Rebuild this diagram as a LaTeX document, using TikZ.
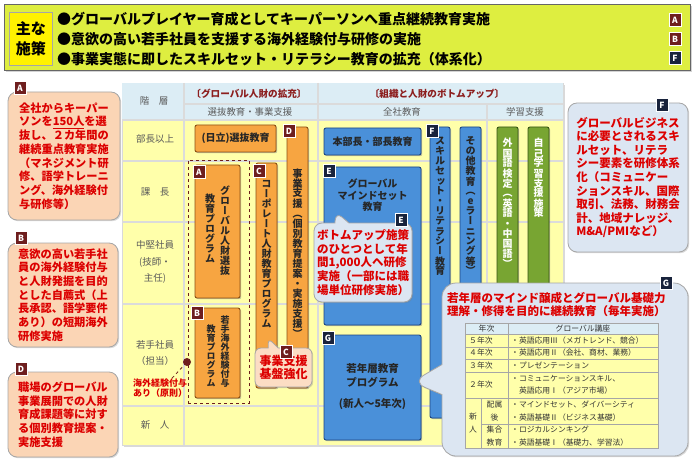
\documentclass[tikz,border=0pt]{standalone}
\usepackage{fontspec}
\setmainfont{Noto Sans CJK JP}
\newfontfamily\vjp[RawFeature=+vert]{Noto Sans CJK JP}
\usepackage{tikz}
\usetikzlibrary{positioning,shapes.callouts,shadows}
\usepackage{xcolor}
\definecolor{bannergreen}{RGB}{222,238,64}
\definecolor{hdrblue}{RGB}{220,237,245}
\definecolor{rowyellow}{RGB}{255,255,170}
\definecolor{orangefill}{RGB}{247,165,65}
\definecolor{orangeline}{RGB}{140,80,20}
\definecolor{bluefill}{RGB}{74,144,217}
\definecolor{blueline}{RGB}{30,70,130}
\definecolor{greenfill}{RGB}{120,165,50}
\definecolor{greenline}{RGB}{55,85,20}
\definecolor{badgered}{RGB}{110,30,30}
\definecolor{badgenavy}{RGB}{25,35,60}
\definecolor{notered}{RGB}{220,0,0}
\definecolor{peach}{RGB}{251,213,181}
\definecolor{paleblue}{RGB}{220,230,242}
\definecolor{labelgray}{RGB}{90,90,90}
\definecolor{titlered}{RGB}{140,30,30}

% vertical (tategaki) text: one character per line
\makeatletter
\newcommand\tate[1]{\vtop{\vjp\offinterlineskip\@tfor\tate@c:=#1\do{\hbox to 1em{\hss\tate@c\hss\vrule height .88em depth .12em width 0pt}}}}
\makeatother

\begin{document}
\begin{tikzpicture}[x=1pt, y=-1pt,
    % Node styles
    banner/.style={draw=black!60, fill=bannergreen, line width=1pt, minimum width=686pt, minimum height=66pt, inner sep=0pt, drop shadow={shadow xshift=1.5pt, shadow yshift=-1.5pt, opacity=.35}},
    keybox/.style={draw=black!35, fill=yellow, line width=.6pt, minimum width=43pt, minimum height=53pt, inner sep=0pt, align=center, font=\fontsize{15}{20}\selectfont\bfseries},
    headline/.style={anchor=west, inner sep=0pt, font=\fontsize{14}{14}\selectfont\bfseries},
    badge/.style={fill=#1, draw=white, line width=.6pt, text=white, minimum width=12pt, minimum height=13pt, inner sep=0pt, font=\fontsize{8.5}{8.5}\selectfont\bfseries},
    note/.style={draw=black!35, fill=peach, line width=.8pt, rounded corners=9pt, inner sep=0pt, align=left, text=notered, font=\fontsize{11.2}{13.7}\selectfont\bfseries, drop shadow={shadow xshift=1.2pt, shadow yshift=-1.2pt, opacity=.3}},
    bubble/.style={note, fill=paleblue},
    tableframe/.style={fill=rowyellow, draw=black!15, line width=.8pt, inner sep=0pt, drop shadow={shadow xshift=2pt, shadow yshift=-2pt, opacity=.3}},
    gridline/.style={draw=black!14, line width=1.2pt},
    rowlabel/.style={inner sep=0pt, align=center, text=labelgray, font=\fontsize{9.5}{16.5}\selectfont},
    colhead/.style={inner sep=0pt, text=titlered, font=\fontsize{9.6}{9.6}\selectfont\bfseries},
    subhead/.style={inner sep=0pt, text=labelgray, font=\fontsize{9.4}{9.4}\selectfont},
    orangebox/.style={draw=orangeline, fill=orangefill, line width=.9pt, rounded corners=2pt, inner sep=0pt, drop shadow={shadow xshift=1.2pt, shadow yshift=-1.2pt, opacity=.5}},
    bluebox/.style={orangebox, draw=blueline, fill=bluefill},
    greenbox/.style={orangebox, draw=greenline, fill=greenfill},
    boxtext/.style={inner sep=0pt, align=center, text=black!85, font=\fontsize{10}{11.5}\selectfont\bfseries},
    cell/.style={inner sep=0pt, align=left, text=black!80, font=\fontsize{7.8}{12.5}\selectfont},
    cellline/.style={draw=black!35, line width=.6pt}
  ]
  \useasboundingbox (0,0) rectangle (695,465);

  % Banner with the main measures
  \node[banner] (banner) at (347,38) {};
  \node[keybox] (keys) at (31,39) {主な\\施策};
  \node[headline] (m1) at (57,19) {●グローバルプレイヤー育成としてキーパーソンへ重点継続教育実施};
  \node[headline] (m2) at (57,39) {●意欲の高い若手社員を支援する海外経験付与研修の実施};
  \node[headline] (m3) at (57,59) {●事業実態に即したスキルセット・リテラシー教育の拡充（体系化）};
  \node[badge=badgered] (m1b) at (675,20) {A};
  \node[badge=badgered] (m2b) at (675,39) {B};
  \node[badge=badgenavy] (m3b) at (675,58) {F};

  % Left notes
  \node[note, minimum width=112pt, minimum height=128pt] (noteA) at (64,156) {全社からキーパー\\ソンを\underline{150人}を選\\抜し、２カ年間の\\継続重点教育実施\\（マネジメント研\\修、語学トレーニ\\ング、海外経験付\\与研修等）};
  \node[badge=badgered] (noteAb) at (20,88) {A};
  \node[note, minimum width=110pt, minimum height=104pt] (noteB) at (63,295) {意欲の高い若手社\\員の海外経験付与\\と人財発掘を目的\\とした自薦式（上\\長承認、語学要件\\あり）の短期海外\\研修実施};
  \node[badge=badgered] (noteBb) at (21,238) {B};
  \node[note, minimum width=110pt, minimum height=85pt] (noteD) at (63,414.5) {職場のグローバル\\事業展開での人財\\育成課題等に対す\\る個別教育提案・\\実施支援};
  \node[badge=badgered] (noteDb) at (21,369) {D};

  % Level table
  \node[tableframe, minimum width=441pt, minimum height=362pt] (tbl) at (342.5,264) {};
  \fill[hdrblue] (122.4,83.4) rectangle (562.6,120);
  \draw[gridline] (184,104) -- (563,104);
  \foreach \yy in {120,161,222,304,406}
    \draw[gridline] (122,\yy) -- (563,\yy);
  \draw[gridline] (184,83) -- (184,445);
  \draw[gridline] (318,83) -- (318,445);
  \draw[gridline] (487,104) -- (487,445);

  \node[rowlabel] (lvl) at (154,101) {階　層};
  \node[colhead] (global) at (249,94) {〔グローバル人財の拡充〕};
  \node[colhead] (bottomup) at (437,94) {〔組織と人財のボトムアップ〕};
  \node[subhead] (select) at (250,111.5) {選抜教育・事業支援};
  \node[subhead] (allco) at (402,111.5) {全社教育};
  \node[subhead] (study) at (525,111.5) {学習支援};
  \node[rowlabel] (r1) at (155,139) {部長以上};
  \node[rowlabel] (r2) at (155,192) {課　長};
  \node[rowlabel] (r3) at (155,262) {中堅社員\\(技師・\\主任)};
  \node[rowlabel] (r4) at (155,353) {若手社員\\（担当）};
  \node[rowlabel] (r5) at (155,425) {新　人};

  % Selection education and business support
  \node[draw=badgered, dashed, line width=.9pt, minimum width=61pt, minimum height=243pt, inner sep=0pt] (groupA) at (218.5,281.5) {};
  \node[orangebox, boxtext, minimum width=81pt, minimum height=27pt] (senbatsu) at (235.5,138.5) {(日立)選抜教育};
  \node[orangebox, minimum width=21pt, minimum height=261pt] (barD) at (297.5,257.5) {};
  \node[boxtext, anchor=north] (barDt) at (297.5,168) {\tate{事業支援（個別教育提案・実施支援）}};
  \node[badge=badgered] (barDb) at (289,131) {D};
  \node[orangebox, minimum width=45pt, minimum height=133pt] (progA) at (217.5,231.5) {};
  \node[boxtext] (progAr) at (225,231) {\tate{グローバル人財選抜}};
  \node[boxtext] (progAl) at (210,229) {\tate{教育プログラム}};
  \node[badge=badgered] (progAb) at (199,172) {A};
  \node[orangebox, minimum width=45pt, minimum height=90pt] (progB) at (217.5,353) {};
  \node[boxtext, font=\fontsize{9}{9}\selectfont\bfseries] (progBr) at (225,352) {\tate{若手海外経験付与}};
  \node[boxtext, font=\fontsize{9}{9}\selectfont\bfseries] (progBl) at (211,356) {\tate{教育プログラム}};
  \node[badge=badgered] (progBb) at (197,313) {B};
  \node[orangebox, minimum width=21pt, minimum height=225pt] (barC) at (266.5,275.5) {};
  \node[boxtext, anchor=north] (barCt) at (266.5,178) {\tate{コーポレート人財教育プログラム}};
  \node[badge=badgered] (barCb) at (259,171) {C};

  \node[circle, fill=badgered, inner sep=0pt, minimum size=8pt] (dot) at (187,362) {};
  \node[inner sep=0pt, align=left, text=notered, font=\fontsize{9}{10.5}\selectfont\bfseries] (abroad) at (160,388) {海外経験付与\\あり（原則）};
  \draw[dashed, badgered, line width=.8pt] ([xshift=12pt]abroad.north) -- (dot);

  \node[note, rectangle callout, callout absolute pointer={(268,338)}, callout pointer width=10pt, rounded corners=6pt, fill=peach!80, align=center, font=\fontsize{12}{13.5}\selectfont\bfseries, minimum width=57pt, minimum height=39pt] (noteC) at (283.5,367.5) {事業支援\\基盤強化};
  \node[badge=badgered] (noteCb) at (286,352) {C};

  % Company-wide education
  \node[bluebox, boxtext, minimum width=97pt, minimum height=27pt] (honbu) at (372.5,141.5) {本部長・部長教育};
  \node[bluebox, minimum width=20pt, minimum height=291pt] (barF) at (440,272.5) {};
  \node[boxtext, anchor=north] (barFt) at (440,136) {\tate{スキルセット・リテラシー教育}};
  \node[badge=badgenavy] (barFb) at (432,131) {F};
  \node[bluebox, minimum width=21pt, minimum height=300pt] (barE) at (470.5,277) {};
  \node[boxtext, anchor=north] (barEt) at (470.5,136) {\tate{その他教育（eラーニング等）}};
  \node[greenbox, minimum width=21pt, minimum height=300pt] (barLang) at (507.5,277) {};
  \node[boxtext, anchor=north, text=white] (barLangt) at (507.5,138) {\tate{外国語検定（英語・中国語）}};
  \node[greenbox, minimum width=21pt, minimum height=300pt] (barSelf) at (538.5,277) {};
  \node[boxtext, anchor=north, text=white] (barSelft) at (538.5,138) {\tate{自己学習支援施策}};

  \node[bluebox, minimum width=97pt, minimum height=158pt] (mind) at (372.5,246) {};
  \node[boxtext, anchor=north] (mindt) at (372.5,179) {グローバル\\マインドセット\\教育};
  \node[badge=badgenavy] (mindb) at (329,171) {E};
  \node[bubble, rectangle callout, callout absolute pointer={(336,212)}, callout pointer width=14pt, rounded corners=8pt, font=\fontsize{11.5}{13.8}\selectfont\bfseries, minimum width=98pt, minimum height=79pt] (noteE) at (363,262.5) {ボトムアップ施策\\のひとつとして年\\間1,000人へ研修\\実施（一部には職\\場単位研修実施）};
  \node[badge=badgenavy] (noteEb) at (401,220) {E};

  \node[bluebox, minimum width=97pt, minimum height=105pt] (young) at (372.5,387.5) {};
  \node[boxtext, font=\fontsize{10.5}{13.5}\selectfont\bfseries] (youngt) at (372.5,387) {若年層教育\\プログラム\\[8pt](新人～5年次)};
  \node[badge=badgenavy] (youngb) at (328,338) {G};

  % Note F
  \node[bubble, minimum width=120pt, minimum height=149pt, font=\fontsize{11.5}{13.6}\selectfont\bfseries] (noteF) at (628,177.5) {グローバルビジネス\\に必要とされるスキ\\ルセット、リテラ\\シー要素を研修体系\\化（コミュニケー\\ションスキル、国際\\取引、法務、財務会\\計、地域ナレッジ、\\M\&A/PMIなど）};
  \node[badge=badgenavy] (noteFb) at (662,105) {F};

  % Note G with the course table
  \node[bubble, rectangle callout, callout absolute pointer={(412,382)}, callout pointer width=30pt, rounded corners=14pt, minimum width=246pt, minimum height=173pt] (noteG) at (565,369.5) {};
  \node[badge=badgenavy] (noteGb) at (666,283) {G};
  \node[inner sep=0pt, anchor=north west, align=left, text=notered, font=\fontsize{11.5}{13.5}\selectfont\bfseries] (gtitle) at (447,292) {若年層のマインド醸成とグローバル基礎力\\理解・修得を目的に継続教育（毎年実施）};

  \fill[hdrblue] (465,323) rectangle (658,334);
  \fill[rowyellow] (465,334) rectangle (658,448);
  \draw[cellline] (465,323) rectangle (658,448);
  \foreach \yy in {334,347,359,372,398}
    \draw[cellline] (465,\yy) -- (658,\yy);
  \draw[cellline] (481,424) -- (658,424);
  \draw[cellline] (481,398) -- (481,448);
  \draw[cellline] (508,323) -- (508,448);

  \node[cell] (gh1) at (486.5,328.5) {年次};
  \node[cell] (gh2) at (583,328.5) {グローバル講座};
  \foreach \yy/\yr/\course [count=\i] in {340.5/５年次/・英語応用Ⅲ（メガトレンド、競合）, 353/４年次/・英語応用Ⅱ（会社、商材、業務）, 365.5/３年次/・プレゼンテーション}
    {\node[cell, anchor=west] (yr\i) at (469,\yy) {\yr};
     \node[cell, anchor=west] (course\i) at (511,\yy) {\course};}
  \node[cell, anchor=west] (yr4) at (469,385) {２年次};
  \node[cell, anchor=west] (course4) at (511,385) {・コミュニケーションスキル、\\\hspace*{1em}英語応用Ⅰ（アジア市場）};
  \node[cell, align=center] (yr5) at (473,423) {新\\人};
  \node[cell, align=center] (yr5a) at (494.5,411) {配属\\後};
  \node[cell, align=center] (yr5b) at (494.5,436) {集合\\教育};
  \node[cell, anchor=west] (course5) at (511,411) {・マインドセット、ダイバーシティ\\・英語基礎Ⅱ（ビジネス基礎）};
  \node[cell, anchor=west] (course6) at (511,436) {・ロジカルシンキング\\・英語基礎Ⅰ（基礎力、学習法）};
\end{tikzpicture}
\end{document}
